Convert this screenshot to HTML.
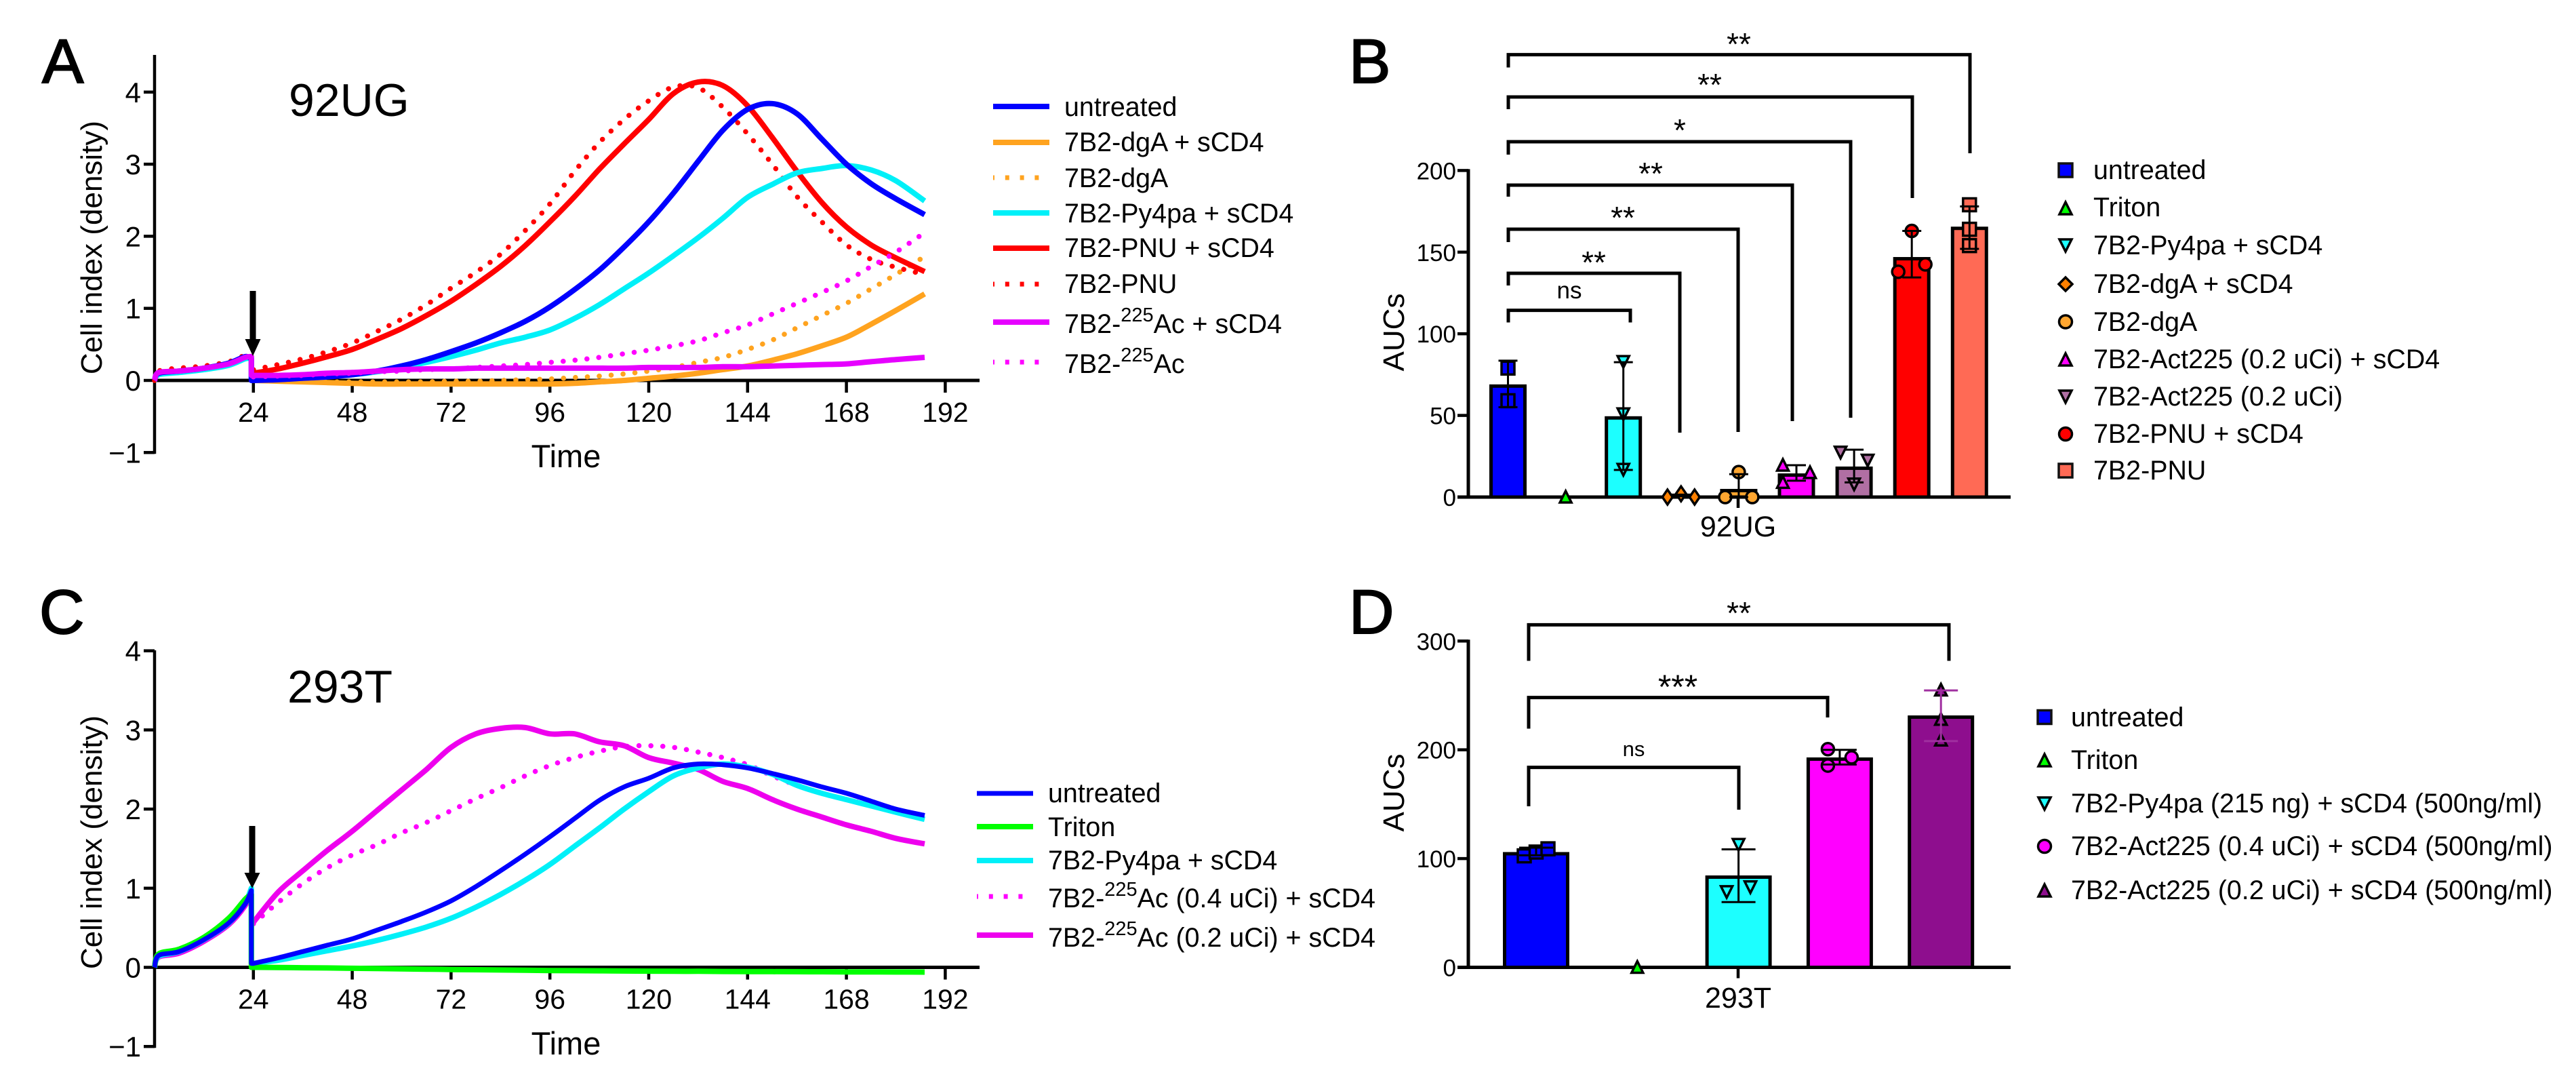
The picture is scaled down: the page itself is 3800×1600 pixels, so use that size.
<!DOCTYPE html>
<html lang="en">
<head>
<meta charset="utf-8">
<title>Cell index and AUC charts</title>
<style>
html,body{margin:0;padding:0;background:#fff;}
svg{display:block;}
text{font-family:"Liberation Sans",Arial,sans-serif;fill:#000;}
</style>
</head>
<body>
<svg id="figure" xmlns="http://www.w3.org/2000/svg" width="3800" height="1600" viewBox="0 0 3800 1600">
<rect width="3800" height="1600" fill="#fff"/>

<!-- Panel labels -->
<g font-size="92" stroke="#000" stroke-width="2">
<text x="62" y="122">A</text>
<text x="1990" y="122">B</text>
<text x="58" y="934">C</text>
<text x="1990" y="934">D</text>
</g>

<!-- Panel A static -->
<g id="panel-a">
<text x="426" y="171" font-size="68">92UG</text>
<text x="835" y="689" font-size="47" text-anchor="middle">Time</text>
<text transform="translate(150,365) rotate(-90)" font-size="44" text-anchor="middle">Cell index (density)</text>
</g>

<g font-size="39.4">
<line x1="1465" x2="1548" y1="157" y2="157" stroke="#0000ff" stroke-width="8"/>
<text x="1570" y="171">untreated</text>
<line x1="1465" x2="1548" y1="210" y2="210" stroke="#ffa31f" stroke-width="8"/>
<text x="1570" y="223">7B2-dgA + sCD4</text>
<line x1="1465" x2="1536" y1="262" y2="262" stroke="#ffa31f" stroke-width="7" stroke-dasharray="6 15.8" stroke-dashoffset="4"/>
<text x="1570" y="276">7B2-dgA</text>
<line x1="1465" x2="1548" y1="314" y2="314" stroke="#00f0f8" stroke-width="8"/>
<text x="1570" y="328">7B2-Py4pa + sCD4</text>
<line x1="1465" x2="1548" y1="366" y2="366" stroke="#ff0000" stroke-width="8"/>
<text x="1570" y="379">7B2-PNU + sCD4</text>
<line x1="1465" x2="1536" y1="419" y2="419" stroke="#ff0000" stroke-width="7" stroke-dasharray="6 15.8" stroke-dashoffset="4"/>
<text x="1570" y="432">7B2-PNU</text>
<line x1="1465" x2="1548" y1="475" y2="475" stroke="#e600ff" stroke-width="8"/>
<text x="1570" y="491">7B2-<tspan font-size="29" dy="-17">225</tspan><tspan dy="17">Ac + sCD4</tspan></text>
<line x1="1465" x2="1536" y1="534" y2="534" stroke="#ff00ff" stroke-width="7" stroke-dasharray="6 15.8" stroke-dashoffset="4"/>
<text x="1570" y="550">7B2-<tspan font-size="29" dy="-17">225</tspan><tspan dy="17">Ac</tspan></text>
</g>

<!-- Panel C static -->
<g id="panel-c">
<text x="424" y="1036" font-size="68">293T</text>
<text x="835" y="1555" font-size="47" text-anchor="middle">Time</text>
<text transform="translate(150,1242) rotate(-90)" font-size="44" text-anchor="middle">Cell index (density)</text>
</g>

<g font-size="39.4">
<line x1="1441" x2="1524" y1="1170" y2="1170" stroke="#0000ff" stroke-width="7"/>
<text x="1546" y="1183">untreated</text>
<line x1="1441" x2="1524" y1="1219" y2="1219" stroke="#00ff00" stroke-width="8"/>
<text x="1546" y="1233">Triton</text>
<line x1="1441" x2="1524" y1="1269" y2="1269" stroke="#00f0f8" stroke-width="8"/>
<text x="1546" y="1282">7B2-Py4pa + sCD4</text>
<line x1="1441" x2="1512" y1="1322" y2="1322" stroke="#ff00ff" stroke-width="7" stroke-dasharray="6 15.8" stroke-dashoffset="4"/>
<text x="1546" y="1338">7B2-<tspan font-size="29" dy="-17">225</tspan><tspan dy="17">Ac (0.4 uCi) + sCD4</tspan></text>
<line x1="1441" x2="1524" y1="1379" y2="1379" stroke="#ee00ee" stroke-width="8"/>
<text x="1546" y="1396">7B2-<tspan font-size="29" dy="-17">225</tspan><tspan dy="17">Ac (0.2 uCi) + sCD4</tspan></text>
</g>

<!-- Panel B static -->
<g id="panel-b">
<text transform="translate(2071,490) rotate(-90)" font-size="44" text-anchor="middle">AUCs</text>
<text x="2564" y="791" font-size="43" text-anchor="middle">92UG</text>
</g>
<g fill="none" stroke="#000" stroke-width="5">
<path d="M2225 475.5V457.6H2405V475.5"/>
<path d="M2225 421V403H2478V638"/>
<path d="M2225 357V338H2564V637"/>
<path d="M2225 290V273H2644V621"/>
<path d="M2225 228V209H2730V616"/>
<path d="M2225 161V143H2821V292"/>
<path d="M2225 99.5V80.6H2906V226"/>
</g>
<g text-anchor="middle">
<text x="2315" y="440" font-size="35">ns</text>
<text x="2351" y="403" font-size="46">**</text>
<text x="2394" y="337" font-size="46">**</text>
<text x="2435" y="272" font-size="46">**</text>
<text x="2478" y="208" font-size="46">*</text>
<text x="2522" y="141" font-size="46">**</text>
<text x="2565" y="81" font-size="46">**</text>
</g>
<g font-size="39.4" stroke-linejoin="miter">
<rect x="3037" y="241" width="20" height="20" fill="#0000ff" stroke="#111" stroke-width="3.5"/>
<text x="3088" y="264">untreated</text>
<path d="M3047 298l9 18h-18z" fill="#00ff00" stroke="#000" stroke-width="3.5"/>
<text x="3088" y="319">Triton</text>
<path d="M3047 371l9 -18h-18z" fill="#1cffff" stroke="#000" stroke-width="3.5"/>
<text x="3088" y="375">7B2-Py4pa + sCD4</text>
<path d="M3047 409l10 10l-10 10l-10 -10z" fill="#ff8000" stroke="#000" stroke-width="3.5"/>
<text x="3088" y="432">7B2-dgA + sCD4</text>
<circle cx="3047" cy="474.5" r="9.5" fill="#ffa630" stroke="#000" stroke-width="3.5"/>
<text x="3088" y="488">7B2-dgA</text>
<path d="M3047 521l9 18h-18z" fill="#ff00ff" stroke="#000" stroke-width="3.5"/>
<text x="3088" y="543">7B2-Act225 (0.2 uCi) + sCD4</text>
<path d="M3047 594l9 -18h-18z" fill="#b06fa3" stroke="#000" stroke-width="3.5"/>
<text x="3088" y="598">7B2-Act225 (0.2 uCi)</text>
<circle cx="3047" cy="640" r="9.5" fill="#ff0000" stroke="#000" stroke-width="3.5"/>
<text x="3088" y="653">7B2-PNU + sCD4</text>
<rect x="3037" y="684" width="20" height="20" fill="#ff6a55" stroke="#111" stroke-width="3.5"/>
<text x="3088" y="707">7B2-PNU</text>
</g>

<!-- Panel D static -->
<g id="panel-d">
<text transform="translate(2071,1169) rotate(-90)" font-size="44" text-anchor="middle">AUCs</text>
<text x="2564" y="1486" font-size="43" text-anchor="middle">293T</text>
</g>
<g fill="none" stroke="#000" stroke-width="5">
<path d="M2255 1189V1131.6H2565V1194"/>
<path d="M2255 1074.5V1028.6H2696V1058"/>
<path d="M2255 974.5V921.4H2875V974.5"/>
</g>
<g text-anchor="middle">
<text x="2410" y="1115" font-size="31">ns</text>
<text x="2475" y="1030" font-size="50">***</text>
<text x="2565" y="920" font-size="46">**</text>
</g>
<g font-size="39.4">
<rect x="3006" y="1047.5" width="20" height="20" fill="#0000ff" stroke="#111" stroke-width="3.5"/>
<text x="3055" y="1071">untreated</text>
<path d="M3016 1112l9 18h-18z" fill="#00ff00" stroke="#000" stroke-width="3.5"/>
<text x="3055" y="1134">Triton</text>
<path d="M3016 1194l9 -18h-18z" fill="#1cffff" stroke="#000" stroke-width="3.5"/>
<text x="3055" y="1198">7B2-Py4pa (215 ng) + sCD4 (500ng/ml)</text>
<circle cx="3016" cy="1248" r="9.5" fill="#ff00ff" stroke="#000" stroke-width="3.5"/>
<text x="3055" y="1261">7B2-Act225 (0.4 uCi) + sCD4 (500ng/ml)</text>
<path d="M3016 1304l9 18h-18z" fill="#8e0e8e" stroke="#000" stroke-width="3.5"/>
<text x="3055" y="1326">7B2-Act225 (0.2 uCi) + sCD4 (500ng/ml)</text>
</g>
</svg>

<script>
// ---------- Time-course data (hours / cell index) ----------
const hourTicks = [24, 48, 72, 96, 120, 144, 168, 192];
const densityTicksA = [-1, 0, 1, 2, 3, 4];
const densityTicksC = [-1, 0, 1, 2, 3, 4];
const preHours = [0, 1, 6, 12, 18, 22, 23.5];
const postHours = [24,30,36,42,48,54,60,66,72,78,84,90,96,102,108,114,120,126,132,138,144,150,156,162,168,174,180,187];

const aPreMagenta = [0, 0.11, 0.13, 0.17, 0.23, 0.32, 0.33];
const aPreRedDotted = [0, 0.13, 0.17, 0.2, 0.26, 0.35, 0.36];
const aPreCyan = [0, 0.08, 0.11, 0.15, 0.21, 0.3, 0.31];
const aPreBlue = [0, 0.1, 0.13, 0.17, 0.24, 0.33, 0.3];

const aBlue = [0,0.01,0.03,0.05,0.08,0.13,0.2,0.29,0.4,0.52,0.66,0.82,1.02,1.26,1.53,1.85,2.2,2.6,3.04,3.47,3.76,3.84,3.7,3.35,3.0,2.73,2.52,2.3];
const aOrange = [0,-0.01,-0.02,-0.03,-0.04,-0.05,-0.05,-0.05,-0.05,-0.05,-0.05,-0.05,-0.05,-0.04,-0.02,0,0.03,0.06,0.1,0.15,0.2,0.28,0.37,0.48,0.6,0.78,0.97,1.2];
const aOrangeDotted = [0,-0.01,-0.01,-0.02,-0.02,-0.02,-0.02,-0.02,-0.01,-0.01,0,0.01,0.02,0.04,0.06,0.09,0.13,0.18,0.25,0.32,0.43,0.56,0.73,0.9,1.07,1.27,1.47,1.72];
const aCyan = [0.03,0.03,0.04,0.06,0.08,0.12,0.18,0.25,0.33,0.42,0.52,0.6,0.7,0.86,1.05,1.27,1.49,1.73,1.98,2.25,2.54,2.72,2.88,2.94,2.98,2.92,2.77,2.49];
const aRed = [0.1,0.16,0.24,0.33,0.43,0.57,0.72,0.9,1.1,1.33,1.58,1.87,2.2,2.55,2.93,3.28,3.62,3.98,4.14,4.09,3.81,3.37,2.9,2.47,2.13,1.88,1.7,1.51];
const aRedDotted = [0.15,0.22,0.3,0.4,0.52,0.68,0.85,1.05,1.28,1.5,1.75,2.08,2.45,2.9,3.3,3.62,3.88,4.07,4.06,3.79,3.42,3.0,2.55,2.2,1.88,1.68,1.57,1.47];
const aMagenta = [0.07,0.07,0.08,0.1,0.11,0.13,0.15,0.16,0.16,0.17,0.17,0.17,0.17,0.17,0.17,0.17,0.18,0.18,0.18,0.19,0.19,0.2,0.21,0.22,0.23,0.26,0.29,0.32];
const aMagentaDotted = [0.05,0.06,0.07,0.09,0.1,0.12,0.13,0.15,0.16,0.18,0.2,0.22,0.25,0.28,0.32,0.37,0.42,0.48,0.55,0.66,0.77,0.92,1.07,1.22,1.38,1.58,1.78,2.05];

const cPreBlue = [0, 0.15, 0.2, 0.35, 0.56, 0.8, 0.97];
const cPreGreen = [0, 0.17, 0.23, 0.38, 0.62, 0.86, 0.92];
const cPreCyan = [0, 0.14, 0.2, 0.35, 0.56, 0.82, 1.0];
const cPreMagenta = [0, 0.13, 0.18, 0.33, 0.54, 0.78, 0.95];

const cBlue = [0.05,0.12,0.2,0.28,0.36,0.47,0.58,0.7,0.84,1.02,1.22,1.43,1.65,1.88,2.11,2.28,2.39,2.52,2.57,2.56,2.52,2.45,2.37,2.28,2.2,2.1,2.0,1.92];
const cGreen = [0,-0.002,-0.005,-0.008,-0.012,-0.015,-0.02,-0.023,-0.027,-0.03,-0.033,-0.036,-0.04,-0.042,-0.044,-0.046,-0.048,-0.05,-0.05,-0.052,-0.053,-0.054,-0.055,-0.056,-0.057,-0.058,-0.059,-0.06];
const cCyan = [0.05,0.09,0.15,0.21,0.27,0.34,0.42,0.51,0.62,0.76,0.92,1.1,1.3,1.53,1.76,2.0,2.22,2.42,2.52,2.57,2.53,2.44,2.3,2.2,2.12,2.04,1.96,1.87];
const cMagentaDotted = [0.55,0.82,1.06,1.26,1.42,1.55,1.7,1.83,1.98,2.13,2.27,2.42,2.55,2.65,2.73,2.79,2.8,2.78,2.72,2.65,2.56,2.42,2.3,2.2,2.12,2.05,1.98,1.9];
const cMagenta = [0.57,0.95,1.22,1.48,1.72,1.98,2.24,2.5,2.78,2.95,3.02,3.03,2.95,2.95,2.85,2.8,2.65,2.58,2.5,2.35,2.26,2.12,2.0,1.9,1.8,1.72,1.63,1.56];

// ---------- Bar data (AUC) ----------
const aucTicksB = [0, 50, 100, 150, 200];
const bCategories = ['untreated','triton','py4pa-scd4','dga-scd4','dga','act225-scd4','act225','pnu-scd4','pnu'];
const bMeans = [69, 0, 49.5, 0.9, 5, 14.5, 18.7, 147, 165.6];
const bErrorLow = [55, null, 16.6, 0.5, 0, 10, 9, 134.5, 152];
const bErrorHigh = [83.5, null, 82.6, 1.5, 14, 19.5, 29, 163, 178];
const bColors = ['#0000ff','#00ff00','#1cffff','#ff8000','#ffa630','#ff00ff','#b06fa3','#ff0000','#ff6a55'];
const bMarkers = ['square','up','down','diamond','circle','up','down','circle','square'];
const bPoints = [[79,59],[0],[83,51,17],[0,2,0],[0,15.3,0],[19.5,15,9],[27.5,22.6,8],[163,142.5,138],[179,164,154]];
const bSwarmSlots = [[0,0],[0],[0,0,0],[-1,0,1],[-1,0,1],[-1,1,-1],[-1,1,0],[0,1,-1],[0,0,0]];

const aucTicksD = [0, 100, 200, 300];
const dCategories = ['untreated','triton','py4pa','act225-04','act225-02'];
const dMeans = [106, 0, 84.5, 193, 231.6];
const dErrorLow = [103, null, 60, 186.5, 208];
const dErrorHigh = [110, null, 108.5, 200, 254.6];
const dColors = ['#0000ff','#00ff00','#1cffff','#ff00ff','#8e0e8e'];
const dErrorColors = ['#000','#000','#000','#000','#a030a0'];
const dMarkers = ['square','up','down','circle','up'];
const dPoints = [[102.5,106,109],[0],[113,69.6,74],[200.6,193,185.5],[255,228,209]];
const dSwarmSlots = [[-1,0,1],[0],[0,-1,1],[-1,1,-1],[0,0,0]];

// ---------- Helpers ----------
const SVG_NS = 'http://www.w3.org/2000/svg';
const figure = document.getElementById('figure');

function node(tag, attrs, parent) {
  const el = document.createElementNS(SVG_NS, tag);
  for (const k in attrs) el.setAttribute(k, attrs[k]);
  (parent || figure).appendChild(el);
  return el;
}

function xHour(h) { return 228 + h * 6.075; }
function yA(v) { return 561 - v * 106.3; }
function yC(v) { return 1426.5 - v * 116.7; }
function yB(v) { return 733 - v * 2.408; }
function yD(v) { return 1426.5 - v * 1.604; }
function xBarB(i) { return 2224.5 + i * 85.1; }
function xBarD(i) { return 2266 + i * 149.3; }

function smoothSegment(pts) {
  let d = '';
  for (let i = 0; i < pts.length - 1; i++) {
    const p0 = pts[Math.max(i - 1, 0)], p1 = pts[i], p2 = pts[i + 1], p3 = pts[Math.min(i + 2, pts.length - 1)];
    const c1x = p1[0] + (p2[0] - p0[0]) / 6, c1y = p1[1] + (p2[1] - p0[1]) / 6;
    const c2x = p2[0] - (p3[0] - p1[0]) / 6, c2y = p2[1] - (p3[1] - p1[1]) / 6;
    d += 'C' + c1x.toFixed(1) + ' ' + c1y.toFixed(1) + ' ' + c2x.toFixed(1) + ' ' + c2y.toFixed(1) + ' ' + p2[0].toFixed(1) + ' ' + p2[1].toFixed(1);
  }
  return d;
}

function curvePath(hours, values, yFn) {
  const pts = hours.map(function (h, i) { return [xHour(h), yFn(values[i])]; });
  return { start: 'M' + pts[0][0].toFixed(1) + ' ' + pts[0][1].toFixed(1), body: smoothSegment(pts), first: pts[0], last: pts[pts.length - 1] };
}

function drawSeries(name, color, width, dotted, pre, post, connect, yFn) {
  const common = { fill: 'none', stroke: color, 'stroke-width': width, 'stroke-linejoin': 'round' };
  if (dotted) {
    common['stroke-linecap'] = 'round';
    common['stroke-dasharray'] = '0.1 17.5';
  }
  const postPath = curvePath(postHours, post, yFn);
  let d;
  if (pre && connect) {
    const prePath = curvePath(preHours, pre, yFn);
    const firstX = postPath.first[0].toFixed(1);
    const firstY = postPath.first[1].toFixed(1);
    d = prePath.start + prePath.body + 'L' + prePath.last[0].toFixed(1) + ' ' + firstY + 'L' + firstX + ' ' + firstY + postPath.body;
  } else {
    d = postPath.start + postPath.body;
    if (pre) {
      const prePath = curvePath(preHours, pre, yFn);
      d = prePath.start + prePath.body + postPath.start + postPath.body;
    }
  }
  common.d = d;
  const el = node('path', common);
  
  
}

function drawTimeAxes(prefix, yFn, ticks, axisTop) {
  const bottom = yFn(-1);
  const zero = yFn(0);
  const yAxis = node('line', { x1: 228, x2: 228, y1: axisTop, y2: bottom + 2, stroke: '#000', 'stroke-width': 4.5 });
  
  
  const xAxis = node('line', { x1: 228, x2: 1445, y1: zero, y2: zero, stroke: '#000', 'stroke-width': 5 });
  
  
  ticks.forEach(function (v) {
    const t = node('line', { x1: 212, x2: 228, y1: yFn(v), y2: yFn(v), stroke: '#000', 'stroke-width': 4.5 });
    
    
    const lab = node('text', { x: 208, y: yFn(v) + 15, 'font-size': 42, 'text-anchor': 'end' });
    
    
    lab.textContent = v < 0 ? '\u2212' + Math.abs(v) : String(v);
  });
  hourTicks.forEach(function (h) {
    const t = node('line', { x1: xHour(h), x2: xHour(h), y1: zero, y2: zero + 18, stroke: '#000', 'stroke-width': 4.5 });
    
    
    const lab = node('text', { x: xHour(h), y: zero + 61, 'font-size': 41, 'text-anchor': 'middle' });
    
    
    lab.textContent = String(h);
  });
}

function drawArrow(name, x, top, headTop, tip) {
  const s = node('rect', { x: x - 4.5, y: top, width: 9, height: headTop - top + 2, fill: '#000' });
  
  
  const h = node('path', { d: 'M' + (x - 11.5) + ' ' + headTop + 'H' + (x + 11.5) + 'L' + x + ' ' + tip + 'Z', fill: '#000' });
  
  
}

function drawMarker(kind, cx, cy, fill, sw) {
  const common = { fill: fill, stroke: '#000', 'stroke-width': sw };
  if (kind === 'square') return node('rect', Object.assign({ x: cx - 9.5, y: cy - 9.5, width: 19, height: 19 }, common));
  if (kind === 'circle') return node('circle', Object.assign({ cx: cx, cy: cy, r: 9 }, common));
  let d;
  if (kind === 'up') d = 'M' + cx + ' ' + (cy - 9) + 'l8.5 17h-17z';
  else if (kind === 'down') d = 'M' + cx + ' ' + (cy + 9) + 'l8.5 -17h-17z';
  else d = 'M' + cx + ' ' + (cy - 11) + 'l7.5 11l-7.5 11l-7.5 -11z';
  return node('path', Object.assign({ d: d }, common));
}

function drawBarChart(cfg) {
  const zero = cfg.y(0);
  // Axes
  const yAxis = node('line', { x1: 2166, x2: 2166, y1: cfg.y(cfg.ticks[cfg.ticks.length - 1]) - 2, y2: zero, stroke: '#000', 'stroke-width': 5 });
  
  
  cfg.ticks.forEach(function (v) {
    const t = node('line', { x1: 2150, x2: 2166, y1: cfg.y(v), y2: cfg.y(v), stroke: '#000', 'stroke-width': 4.5 });
    
    
    const lab = node('text', { x: 2148, y: cfg.y(v) + 13, 'font-size': 35, 'text-anchor': 'end' });
    
    
    lab.textContent = String(v);
  });
  // Bars
  cfg.means.forEach(function (m, i) {
    const h = zero - cfg.y(m);
    if (h >= 8) {
      const bar = node('rect', {
        x: cfg.x(i) - cfg.barWidth / 2 + 2.5, y: cfg.y(m) + 2.5,
        width: cfg.barWidth - 5, height: h - 2.5,
        fill: cfg.colors[i], stroke: '#000', 'stroke-width': 5
      });
      
      
    }
  });
  const xAxis = node('line', { x1: 2150, x2: 2966, y1: zero, y2: zero, stroke: '#000', 'stroke-width': 5 });
  
  
  const xTick = node('line', { x1: cfg.tickX, x2: cfg.tickX, y1: zero, y2: zero + 16, stroke: '#000', 'stroke-width': 4.5 });
  
  
  // Points then error bars
  cfg.points.forEach(function (vals, i) {
    vals.forEach(function (v, j) {
      const mk = drawMarker(cfg.markers[i], cfg.x(i) + cfg.slots[i][j] * cfg.slotWidth, cfg.y(v), cfg.colors[i], 3.5);
      
      
    });
  });
  cfg.low.forEach(function (lo, i) {
    if (lo === null) return;
    const hi = cfg.high[i];
    const col = cfg.errorColors ? cfg.errorColors[i] : '#000';
    const d = 'M' + (cfg.x(i) - cfg.capWidth / 2) + ' ' + cfg.y(hi) + 'H' + (cfg.x(i) + cfg.capWidth / 2) +
      'M' + cfg.x(i) + ' ' + cfg.y(hi) + 'V' + cfg.y(lo) +
      'M' + (cfg.x(i) - cfg.capWidth / 2) + ' ' + cfg.y(lo) + 'H' + (cfg.x(i) + cfg.capWidth / 2);
    const e = node('path', { d: d, fill: 'none', stroke: col, 'stroke-width': 3 });
    
    
  });
}

// ---------- Panel A ----------
drawTimeAxes('panel-a', yA, densityTicksA, 81);
drawSeries('series-a-orange-dotted', '#ffa31f', 7.5, true, null, aOrangeDotted, false, yA);
drawSeries('series-a-orange', '#ffa31f', 8, false, null, aOrange, false, yA);
drawSeries('series-a-red-dotted', '#ff0000', 7.5, true, aPreRedDotted, aRedDotted, false, yA);
drawSeries('series-a-red', '#ff0000', 8, false, null, aRed, false, yA);
drawSeries('series-a-cyan', '#00f0f8', 8, false, aPreCyan, aCyan, true, yA);
drawSeries('series-a-blue', '#0000ff', 8, false, aPreBlue, aBlue, true, yA);
drawSeries('series-a-magenta-dotted', '#ff00ff', 7.5, true, null, aMagentaDotted, false, yA);
drawSeries('series-a-magenta', '#e600ff', 8, false, aPreMagenta, aMagenta, true, yA);
drawArrow('panel-a-arrow', 373, 429, 500, 525);

// ---------- Panel C ----------
drawTimeAxes('panel-c', yC, densityTicksC, 959);
drawSeries('series-c-magenta-dotted', '#ff00ff', 7.5, true, null, cMagentaDotted, false, yC);
drawSeries('series-c-magenta', '#ee00ee', 8, false, cPreMagenta, cMagenta, false, yC);
drawSeries('series-c-cyan', '#00f0f8', 8, false, cPreCyan, cCyan, true, yC);
drawSeries('series-c-green', '#00ff00', 8, false, cPreGreen, cGreen, true, yC);
drawSeries('series-c-blue', '#0000ff', 7, false, cPreBlue, cBlue, true, yC);
drawArrow('panel-c-arrow', 372, 1218, 1287, 1310);

// ---------- Panel B ----------
drawBarChart({
  prefix: 'panel-b', y: yB, x: xBarB, ticks: aucTicksB, means: bMeans, low: bErrorLow, high: bErrorHigh,
  colors: bColors, markers: bMarkers, points: bPoints, slots: bSwarmSlots, categories: bCategories,
  barWidth: 55, slotWidth: 20, capWidth: 28, tickX: 2564
});

// ---------- Panel D ----------
drawBarChart({
  prefix: 'panel-d', y: yD, x: xBarD, ticks: aucTicksD, means: dMeans, low: dErrorLow, high: dErrorHigh,
  colors: dColors, errorColors: dErrorColors, markers: dMarkers, points: dPoints, slots: dSwarmSlots, categories: dCategories,
  barWidth: 98, slotWidth: 17.5, capWidth: 50, tickX: 2564
});
</script>
</body>
</html>
